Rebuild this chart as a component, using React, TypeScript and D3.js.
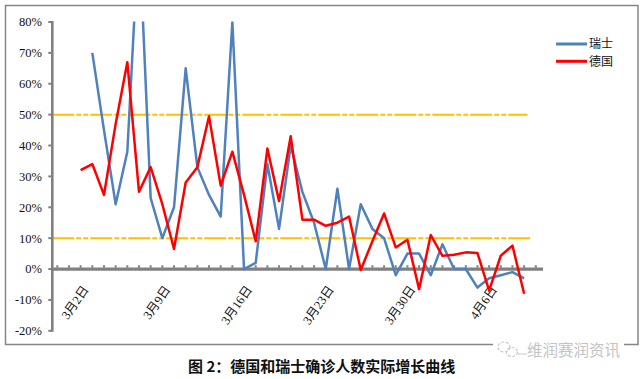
import React from "react";
import * as d3 from "d3";

const categories: string[] = [
  "2月29日", "3月1日", "3月2日", "3月3日", "3月4日", "3月5日", "3月6日", "3月7日", "3月8日", "3月9日",
  "3月10日", "3月11日", "3月12日", "3月13日", "3月14日", "3月15日", "3月16日", "3月17日", "3月18日", "3月19日",
  "3月20日", "3月21日", "3月22日", "3月23日", "3月24日", "3月25日", "3月26日", "3月27日", "3月28日", "3月29日",
  "3月30日", "3月31日", "4月1日", "4月2日", "4月3日", "4月4日", "4月5日", "4月6日", "4月7日", "4月8日",
  "4月9日", "4月10日",
];
const tickLabels: string[] = ["3月2日", "3月9日", "3月16日", "3月23日", "3月30日", "4月6日"];

const swiss: (number | null)[] = [
  null, null, null, 70, 45, 21, 38, 110, 23, 10,
  20, 65, 33, 24, 17, 80, 0, 2, 34, 13,
  40, 25, 15, 0, 26, 0, 21, 13, 10, -2,
  5, 5, -2, 8, 0, 0, -6, -3, -2, -1,
  -3,
];
const germany: (number | null)[] = [
  null, null, 32, 34, 24, 47, 67, 25, 33, 21,
  6.5, 28, 33, 49.5, 27, 38, 24, 9, 39, 22,
  43, 16, 16, 14, 15, 17, -0.3, 9, 18, 7,
  9.5, -6.5, 11, 4.3, 4.6, 5.4, 5.2, -7, 4.3, 7.6,
  -8,
];
const yTicks: number[] = [-20, -10, 0, 10, 20, 30, 40, 50, 60, 70, 80];
const refLines: number[] = [50, 10];
const seriesNames: string[] = ["瑞士", "德国"];
const caption = "图 2：德国和瑞士确诊人数实际增长曲线";
const watermark = "维润赛润资讯";

export default function App() {
  const W = 643, H = 379;
  const x = d3.scaleLinear().domain([0, categories.length - 1]).range([57.3, 535.8]);
  const y = d3.scaleLinear().domain([-20, 80]).range([330.8, 22]);
  const axisX = 52.3;
  const axisEnd = 543;
  const gray = "#808080";

  const line = d3
    .line<number | null>()
    .defined((d) => d !== null)
    .x((_, i) => x(i))
    .y((d) => y(d as number));

  const serif = "'Liberation Serif', 'Times New Roman', serif";
  const labelFont = "'Liberation Serif', 'Noto Sans CJK SC', serif";
  const cjk = "'Noto Sans CJK SC', sans-serif";

  return (
    <svg
      width={W}
      height={H}
      style={{ position: "absolute", left: 0, top: 0, background: "#fff" }}
    >
      <rect x={0} y={0} width={W} height={H} fill="#fff" />
      <rect x={5.5} y={5.5} width={632.5} height={339} fill="none" stroke="#868686" strokeWidth={1.5} />
      <defs>
        <clipPath id="plotClip">
          <rect x={axisX} y={y(80) - 0.5} width={axisEnd - axisX} height={y(-20) - y(80) + 1} />
        </clipPath>
      </defs>

      {/* reference lines */}
      {refLines.map((v) => (
        <line
          key={v}
          x1={axisX}
          x2={v === 50 ? 527.5 : 530}
          y1={y(v)}
          y2={y(v)}
          stroke="#FFC000"
          strokeWidth={2}
          strokeDasharray="22,2,5,2,5,2"
        />
      ))}

      {/* y axis */}
      <line x1={axisX} x2={axisX} y1={y(80) - 1} y2={y(-20) + 1} stroke={gray} strokeWidth={2.6} />
      {yTicks.map((t) => (
        <g key={t}>
          <line x1={axisX - 4} x2={axisX} y1={y(t)} y2={y(t)} stroke={gray} strokeWidth={2} />
          <text
            x={42}
            y={y(t)}
            dy="0.35em"
            textAnchor="end"
            fontFamily={serif}
            fontSize={12.5}
            fill="#111"
          >
            {`${t}%`}
          </text>
        </g>
      ))}

      {/* x axis */}
      <line x1={axisX} x2={axisEnd} y1={y(0)} y2={y(0)} stroke={gray} strokeWidth={3.3} />
      {categories.map((c, i) => (
        <rect key={c} x={x(i) - 1} y={y(0) - 3.8} width={2} height={2.5} fill={gray} />
      ))}
      {categories.map((c, i) =>
        tickLabels.includes(c) ? (
          <text
            key={"l" + c}
            transform={`translate(${x(i) + 5},${y(0) + 18}) rotate(-55)`}
            textAnchor="end"
            dy="0.35em"
            fontFamily={labelFont}
            fontSize={12.5}
            fill="#111"
          >
            {c}
          </text>
        ) : null
      )}

      {/* series */}
      <g clipPath="url(#plotClip)">
        <path d={line(swiss) || ""} fill="none" stroke="#4F81BD" strokeWidth={2.5} strokeLinejoin="round" />
        <path d={line(germany) || ""} fill="none" stroke="#FF0000" strokeWidth={2.5} strokeLinejoin="round" />
      </g>

      {/* legend */}
      {seriesNames.map((n, i) => (
        <g key={n}>
          <line
            x1={556}
            x2={587}
            y1={44 + i * 17.3}
            y2={44 + i * 17.3}
            stroke={i === 0 ? "#4F81BD" : "#FF0000"}
            strokeWidth={3}
          />
          <text x={589} y={44 + i * 17.3} dy="0.35em" fontFamily={cjk} fontSize={12} fill="#111">
            {n}
          </text>
        </g>
      ))}

      {/* watermark */}
      <rect x={493} y={338} width={131} height={20} fill="#fff" />
      <g stroke="#c8c8c8" fill="none" strokeWidth={1.2}>
        <ellipse cx={504} cy={347} rx={6} ry={5} strokeDasharray="3,1.5" />
        <ellipse cx={512} cy={352} rx={5.5} ry={4.5} strokeDasharray="3,1.5" />
      </g>
      <line x1={518} x2={527} y1={354} y2={354} stroke="#c8c8c8" strokeWidth={1} />
      <text x={527} y={356} fontFamily={cjk} fontSize={15.5} fill="#c4c4c4">
        {watermark}
      </text>

      {/* caption */}
      <text x={188} y={372} fontFamily={cjk} fontWeight="bold" fontSize={15} fill="#111">
        {caption}
      </text>
    </svg>
  );
}
